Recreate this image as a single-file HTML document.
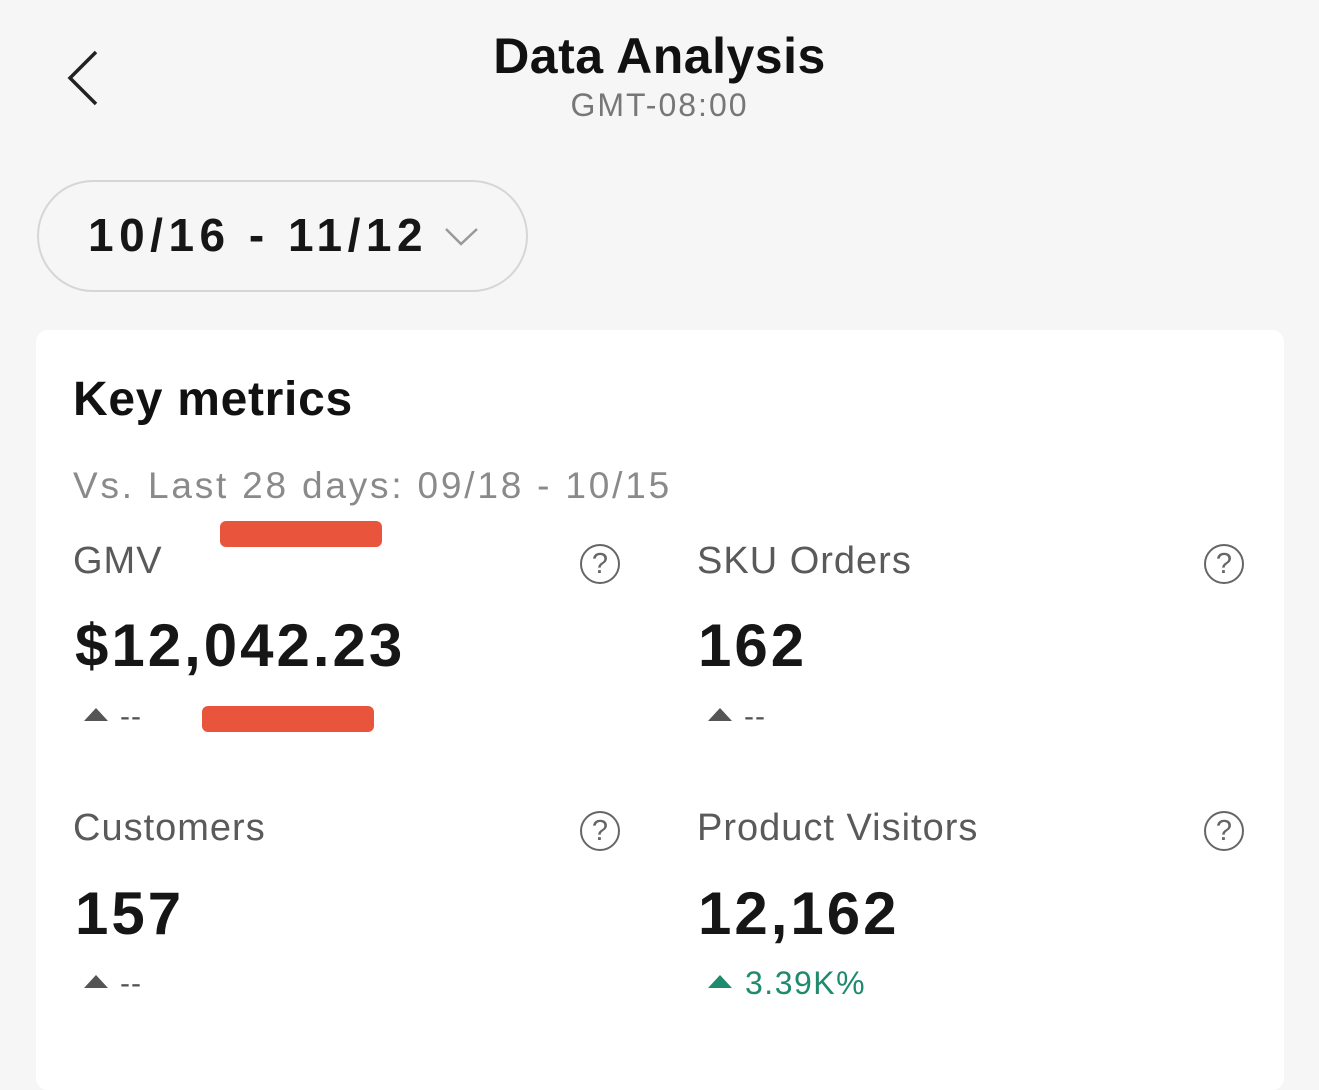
<!DOCTYPE html>
<html><head><style>
body{margin:0;width:1319px;height:1060px;background:#f6f6f6;font-family:"Liberation Sans",sans-serif;position:relative;overflow:hidden}
.a{position:absolute;white-space:nowrap;line-height:1}
.card{position:absolute;left:36px;top:330px;width:1248px;height:760px;background:#fff;border-radius:12px}
.lbl{font-size:38px;color:#5a5a5a;letter-spacing:1px}
.val{font-size:60px;color:#161616;font-weight:bold;letter-spacing:3px}
.q{position:absolute;width:40px;height:40px;border:2.5px solid #666;border-radius:50%;box-sizing:border-box;text-align:center;font-size:29px;line-height:36px;color:#666}
.tri{position:absolute;width:0;height:0;border-left:12px solid transparent;border-right:12px solid transparent;border-bottom:13px solid #555}
.dash{font-size:30px;color:#555;letter-spacing:1px}
.red{position:absolute;background:#e8553c;border-radius:6px}
</style></head><body>
<svg class="a" style="left:64px;top:48px" width="40" height="60"><polyline points="32,4 6,30 32,56" fill="none" stroke="#222" stroke-width="3.5"/></svg>
<div class="a" style="left:0;width:1319px;text-align:center;top:31px;font-size:50px;color:#111;font-weight:bold;letter-spacing:0.5px">Data Analysis</div>
<div class="a" style="left:0;width:1319px;text-align:center;top:89px;font-size:32px;color:#777;letter-spacing:2px">GMT-08:00</div>
<div class="a" style="left:37px;top:180px;width:491px;height:112px;border:2.5px solid #d6d6d6;border-radius:56px;box-sizing:border-box"></div>
<div class="a" style="left:88px;top:212px;font-size:46px;color:#161616;font-weight:bold;letter-spacing:5.5px">10/16 - 11/12</div>
<svg class="a" style="left:444px;top:226px" width="36" height="22"><polyline points="2,3 17,18 33,3" fill="none" stroke="#999" stroke-width="2.5"/></svg>
<div class="card"></div>
<div class="a" style="left:73px;top:376px;font-size:48px;color:#111;font-weight:bold;letter-spacing:0.7px">Key metrics</div>
<div class="a" style="left:73px;top:467px;font-size:37px;color:#8a8a8a;letter-spacing:2.8px">Vs. Last 28 days: 09/18 - 10/15</div>
<div class="red" style="left:220px;top:521px;width:162px;height:26px"></div>
<div class="a lbl" style="left:73px;top:542px">GMV</div>
<div class="q" style="left:580px;top:544px">?</div>
<div class="a val" style="left:75px;top:616px">$12,042.23</div>
<div class="tri" style="left:84px;top:708px"></div><div class="a dash" style="left:120px;top:702px">--</div>
<div class="red" style="left:202px;top:706px;width:172px;height:26px"></div>
<div class="a lbl" style="left:697px;top:542px">SKU Orders</div>
<div class="q" style="left:1204px;top:544px">?</div>
<div class="a val" style="left:698px;top:616px">162</div>
<div class="tri" style="left:708px;top:708px"></div><div class="a dash" style="left:744px;top:702px">--</div>
<div class="a lbl" style="left:73px;top:809px">Customers</div>
<div class="q" style="left:580px;top:811px">?</div>
<div class="a val" style="left:75px;top:884px">157</div>
<div class="tri" style="left:84px;top:975px"></div><div class="a dash" style="left:120px;top:969px">--</div>
<div class="a lbl" style="left:697px;top:809px">Product Visitors</div>
<div class="q" style="left:1204px;top:811px">?</div>
<div class="a val" style="left:698px;top:884px">12,162</div>
<div class="tri" style="left:708px;top:975px;border-bottom-color:#1f8a6e"></div>
<div class="a" style="left:745px;top:967px;font-size:32px;color:#1f8a6e;letter-spacing:1.5px">3.39K%</div>
</body></html>
